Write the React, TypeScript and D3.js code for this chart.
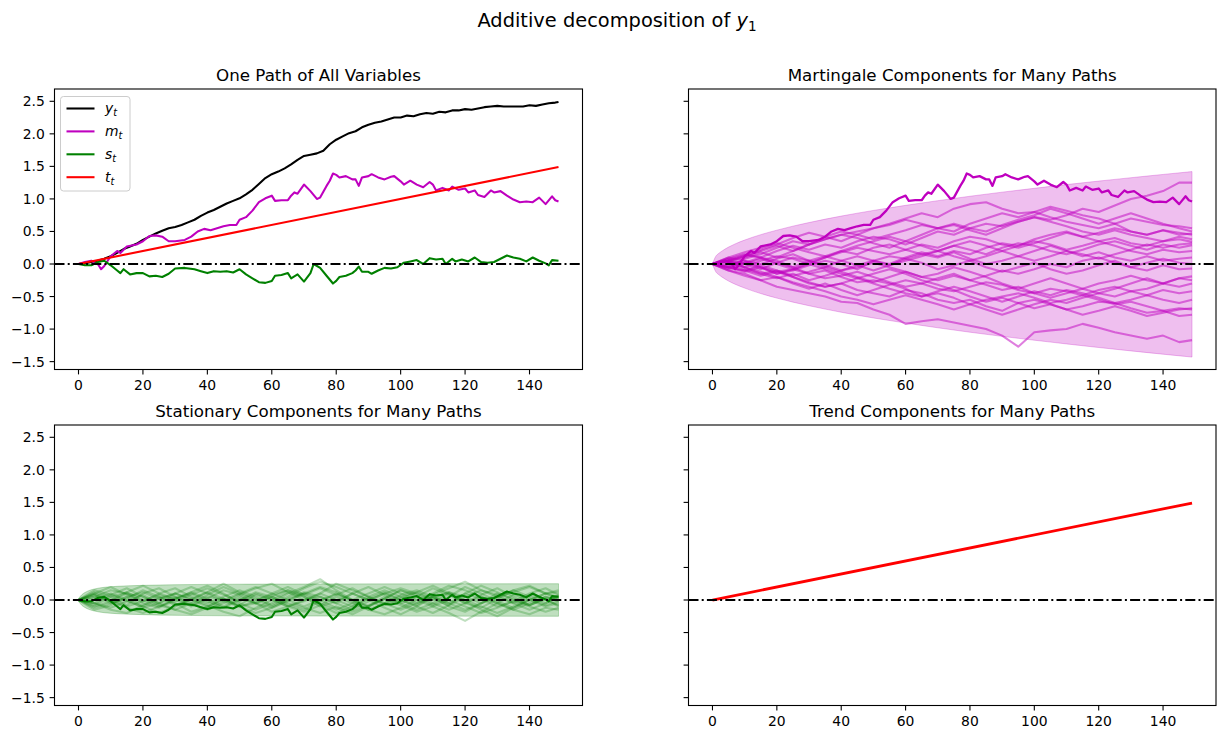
import React from 'react';
import * as d3 from 'd3';

// ---------------- DATA ----------------
const xTicks = [0, 20, 40, 60, 80, 100, 120, 140];
const yTicks = [-1.5, -1.0, -0.5, 0.0, 0.5, 1.0, 1.5, 2.0, 2.5];
const xDomain: [number, number] = [-7.45, 156.45];
const yDomain: [number, number] = [-1.621, 2.689];

const legendLabels = ['y', 'm', 's', 't'];

// coarse time grid for the many-path panels
const T5 = [0, 5, 10, 15, 20, 25, 30, 35, 40, 45, 50, 55, 60, 65, 70, 75, 80, 85, 90, 95, 100, 105, 110, 115, 120, 125, 130, 135, 140, 145, 149];

const yPath: [number, number][] = [[0,0],[2,0.01],[4,0.03],[6,0.05],[8,0.08],[10,0.12],[12,0.17],[14,0.23],[16,0.27],[18,0.31],[20,0.37],[22,0.42],[24,0.47],[26,0.51],[28,0.55],[30,0.57],[32,0.6],[34,0.64],[36,0.68],[38,0.74],[40,0.79],[42,0.83],[44,0.88],[46,0.93],[48,0.97],[50,1.01],[52,1.07],[54,1.14],[56,1.23],[58,1.32],[60,1.38],[62,1.42],[64,1.47],[66,1.53],[68,1.6],[70,1.66],[72,1.68],[74,1.7],[76,1.74],[78,1.84],[80,1.91],[82,1.96],[84,2.01],[86,2.04],[88,2.1],[90,2.14],[92,2.17],[94,2.19],[96,2.22],[98,2.25],[100,2.25],[102,2.28],[104,2.27],[106,2.3],[108,2.32],[110,2.31],[112,2.34],[114,2.33],[116,2.36],[118,2.36],[120,2.38],[122,2.37],[124,2.39],[126,2.41],[128,2.42],[130,2.43],[132,2.42],[134,2.42],[136,2.42],[138,2.42],[140,2.44],[142,2.43],[144,2.45],[146,2.47],[148,2.48],[149,2.49]];

const mPath: [number, number][] = [[0,0],[2,0.03],[4,0.05],[6,0.0],[7,-0.08],[8,-0.03],[10,0.12],[12,0.2],[13,0.17],[15,0.27],[18,0.3],[20,0.35],[22,0.43],[24,0.44],[26,0.42],[28,0.35],[30,0.35],[33,0.37],[35,0.42],[37,0.5],[39,0.54],[41,0.52],[43,0.55],[45,0.58],[47,0.6],[49,0.6],[50,0.68],[52,0.72],[54,0.82],[56,0.95],[58,1.01],[60,1.05],[61,0.97],[63,0.98],[65,0.98],[66,1.05],[67,1.1],[68,1.08],[70,1.22],[72,1.12],[74,1.0],[75,1.02],[77,1.2],[78,1.28],[79,1.39],[80,1.37],[81,1.33],[83,1.35],[85,1.3],[86,1.3],[87,1.2],[88,1.33],[90,1.35],[91,1.38],[93,1.33],[95,1.3],[97,1.34],[98,1.35],[100,1.27],[101,1.22],[103,1.28],[105,1.22],[107,1.18],[109,1.26],[110,1.22],[111,1.13],[113,1.17],[115,1.13],[116,1.19],[118,1.14],[120,1.16],[121,1.1],[123,1.13],[124,1.06],[126,1.03],[128,1.13],[129,1.1],[131,1.12],[133,1.05],[135,0.99],[137,0.95],[139,0.96],[141,0.95],[143,1.02],[145,0.92],[147,1.04],[148,0.98],[149,0.96]];

const sPath: [number, number][] = [[0,0],[2,-0.02],[4,-0.02],[6,0.03],[8,0.05],[10,-0.02],[12,-0.1],[13,-0.14],[14,-0.08],[16,-0.16],[18,-0.14],[20,-0.14],[22,-0.19],[24,-0.18],[26,-0.2],[28,-0.15],[30,-0.07],[33,-0.06],[36,-0.08],[38,-0.11],[40,-0.14],[42,-0.11],[44,-0.12],[46,-0.11],[48,-0.13],[50,-0.08],[52,-0.16],[54,-0.22],[56,-0.28],[58,-0.29],[60,-0.26],[61,-0.18],[63,-0.17],[65,-0.14],[66,-0.22],[68,-0.16],[70,-0.27],[72,-0.14],[73,0.0],[75,-0.06],[77,-0.18],[79,-0.3],[80,-0.26],[81,-0.2],[83,-0.18],[85,-0.14],[86,-0.1],[87,-0.04],[88,-0.12],[90,-0.12],[91,-0.15],[93,-0.1],[95,-0.06],[97,-0.07],[99,-0.05],[101,0.02],[103,0.04],[105,0.06],[107,0.0],[109,0.09],[111,0.07],[113,0.08],[114,0.0],[116,0.08],[117,0.04],[119,0.07],[121,0.04],[123,0.1],[125,0.03],[127,0.02],[129,0.03],[131,0.08],[133,0.13],[135,0.1],[137,0.08],[139,0.04],[141,0.1],[143,0.05],[145,0.01],[146,-0.02],[147,0.06],[149,0.05]];

const trendT = [0, 149];
const trendV = [0, 1.49];

const mBandT = [0, 1, 2, 3, 5, 7, 10, 15, 20, 25, 30, 40, 50, 60, 70, 80, 90, 100, 110, 120, 130, 140, 149];
const mBandUpper = [0, 0.116, 0.165, 0.201, 0.26, 0.308, 0.368, 0.451, 0.52, 0.582, 0.637, 0.736, 0.823, 0.901, 0.973, 1.041, 1.104, 1.163, 1.22, 1.274, 1.326, 1.376, 1.42];
const mBandLower = [0, -0.117, -0.166, -0.202, -0.262, -0.31, -0.37, -0.454, -0.524, -0.586, -0.641, -0.741, -0.829, -0.907, -0.98, -1.048, -1.112, -1.171, -1.228, -1.283, -1.335, -1.386, -1.43];

const sBandT = [0, 1, 2, 3, 5, 8, 12, 20, 30, 50, 80, 149];
const sBandUpper = [0.02, 0.08, 0.115, 0.14, 0.17, 0.195, 0.21, 0.225, 0.235, 0.243, 0.247, 0.25];
const sBandLower = [-0.02, -0.08, -0.115, -0.14, -0.17, -0.195, -0.21, -0.225, -0.235, -0.243, -0.247, -0.25];

const mPaths: number[][] = [
  [0,-0.1,-0.15,-0.25,-0.35,-0.4,-0.45,-0.5,-0.58,-0.6,-0.7,-0.78,-0.92,-0.88,-0.85,-0.9,-0.95,-1.0,-1.1,-1.27,-1.05,-1.02,-1.0,-0.92,-0.98,-1.05,-1.1,-1.15,-1.1,-1.2,-1.17],
  [0,0.05,-0.05,-0.15,-0.1,-0.2,-0.3,-0.35,-0.3,-0.4,-0.45,-0.5,-0.4,-0.45,-0.55,-0.6,-0.55,-0.65,-0.72,-0.6,-0.55,-0.62,-0.7,-0.65,-0.58,-0.6,-0.68,-0.75,-0.72,-0.8,-0.78],
  [0,-0.08,0.02,0.1,0.05,-0.05,-0.15,-0.1,-0.2,-0.28,-0.25,-0.3,-0.38,-0.5,-0.45,-0.52,-0.62,-0.55,-0.5,-0.45,-0.52,-0.6,-0.55,-0.48,-0.55,-0.62,-0.58,-0.65,-0.72,-0.68,-0.7],
  [0,0.1,0.05,-0.05,-0.12,-0.08,-0.15,-0.22,-0.18,-0.12,-0.2,-0.28,-0.35,-0.3,-0.38,-0.42,-0.35,-0.28,-0.32,-0.4,-0.45,-0.38,-0.42,-0.48,-0.4,-0.35,-0.42,-0.38,-0.3,-0.35,-0.3],
  [0,0.08,0.15,0.1,0.2,0.28,0.22,0.3,0.25,0.35,0.42,0.38,0.3,0.4,0.5,0.45,0.55,0.62,0.58,0.65,0.72,0.68,0.75,0.85,0.8,0.9,1.0,1.05,1.12,1.25,1.25],
  [0,0.05,0.12,0.2,0.28,0.2,0.3,0.38,0.45,0.5,0.55,0.62,0.7,0.78,0.72,0.85,0.92,0.95,0.85,0.78,0.8,0.72,0.65,0.6,0.55,0.62,0.5,0.45,0.52,0.48,0.45],
  [0,-0.05,0.08,0.15,0.25,0.35,0.3,0.42,0.5,0.45,0.38,0.45,0.52,0.6,0.55,0.5,0.62,0.7,0.78,0.72,0.8,0.88,0.82,0.75,0.7,0.62,0.7,0.65,0.6,0.58,0.55],
  [0,0.05,-0.05,0.05,0.12,0.08,0.0,0.1,0.18,0.25,0.2,0.15,0.22,0.3,0.25,0.35,0.42,0.38,0.3,0.25,0.32,0.4,0.48,0.42,0.35,0.4,0.32,0.28,0.35,0.38,0.34],
  [0,-0.05,-0.12,-0.05,-0.15,-0.1,-0.02,0.05,0.0,-0.08,0.05,0.12,0.08,0.15,0.2,0.28,0.22,0.15,0.25,0.32,0.28,0.2,0.15,0.22,0.3,0.35,0.28,0.22,0.3,0.25,0.29],
  [0,0.08,0.0,-0.08,0.02,0.1,0.05,-0.05,0.05,0.12,0.05,-0.02,0.08,0.02,-0.08,-0.02,0.05,-0.05,-0.12,-0.05,0.02,-0.08,-0.15,-0.1,-0.02,0.05,-0.05,-0.1,-0.02,-0.08,-0.07],
  [0,-0.06,-0.1,-0.02,-0.1,-0.18,-0.12,-0.05,-0.12,-0.2,-0.28,-0.2,-0.12,-0.2,-0.15,-0.05,-0.12,-0.2,-0.3,-0.38,-0.3,-0.22,-0.3,-0.38,-0.3,-0.25,-0.18,-0.25,-0.3,-0.22,-0.19],
  [0,0.02,-0.08,-0.15,-0.22,-0.15,-0.25,-0.18,-0.1,-0.02,0.05,0.0,0.1,0.18,0.12,0.2,0.15,0.25,0.32,0.28,0.38,0.45,0.5,0.42,0.48,0.55,0.5,0.45,0.52,0.45,0.47],
  [0,0.06,0.14,0.1,0.0,-0.08,0.02,0.1,0.2,0.15,0.25,0.3,0.22,0.15,0.1,0.18,0.08,0.0,0.05,0.12,0.2,0.28,0.2,0.12,0.18,0.1,0.05,0.12,0.05,0.08,0.1],
  [0,-0.04,-0.1,-0.18,-0.12,-0.2,-0.28,-0.35,-0.3,-0.22,-0.3,-0.38,-0.45,-0.5,-0.42,-0.35,-0.42,-0.5,-0.58,-0.5,-0.42,-0.48,-0.4,-0.45,-0.52,-0.6,-0.55,-0.48,-0.55,-0.6,-0.55],
  [0,0.1,0.18,0.25,0.32,0.25,0.18,0.12,0.2,0.28,0.35,0.42,0.35,0.28,0.2,0.12,0.05,0.12,0.2,0.28,0.35,0.3,0.22,0.28,0.35,0.28,0.2,0.15,0.22,0.18,0.2],
  [0,-0.1,-0.18,-0.25,-0.2,-0.3,-0.38,-0.3,-0.4,-0.48,-0.4,-0.32,-0.25,-0.3,-0.22,-0.15,-0.25,-0.18,-0.1,-0.15,-0.08,0.0,-0.05,0.05,0.1,0.02,-0.05,0.02,0.08,0.02,0.0],
  [0,0.05,0.12,0.22,0.3,0.4,0.48,0.42,0.35,0.45,0.55,0.6,0.68,0.62,0.55,0.6,0.52,0.45,0.55,0.65,0.72,0.65,0.58,0.5,0.45,0.52,0.45,0.4,0.35,0.42,0.38],
  [0,0.05,-0.05,-0.12,-0.2,-0.28,-0.35,-0.42,-0.5,-0.55,-0.62,-0.55,-0.48,-0.55,-0.62,-0.7,-0.62,-0.7,-0.78,-0.7,-0.62,-0.55,-0.6,-0.52,-0.45,-0.5,-0.42,-0.48,-0.4,-0.45,-0.42],
  [0,-0.02,0.05,0.0,0.08,0.15,0.05,-0.02,-0.1,-0.05,0.02,-0.05,-0.12,-0.2,-0.25,-0.18,-0.25,-0.32,-0.4,-0.35,-0.45,-0.52,-0.45,-0.38,-0.45,-0.38,-0.3,-0.22,-0.3,-0.22,-0.25],
  [0,0.05,0.0,0.08,0.02,-0.05,0.05,0.12,0.05,-0.02,-0.1,-0.02,0.05,0.12,0.2,0.28,0.35,0.28,0.2,0.12,0.05,0.12,0.2,0.15,0.08,0.15,0.22,0.3,0.25,0.3,0.32],
  [0,0.05,0.1,0.18,0.1,0.2,0.3,0.38,0.45,0.4,0.32,0.25,0.35,0.45,0.55,0.62,0.55,0.5,0.6,0.68,0.75,0.85,0.78,0.7,0.62,0.7,0.78,0.7,0.62,0.55,0.5],
  [0,-0.05,0.02,-0.05,-0.15,-0.08,0.0,-0.08,-0.15,-0.22,-0.15,-0.08,-0.15,-0.25,-0.32,-0.4,-0.5,-0.58,-0.52,-0.6,-0.68,-0.62,-0.7,-0.78,-0.72,-0.65,-0.72,-0.8,-0.75,-0.7,-0.68],
];

const sPaths: number[][] = [
  [0,0.12,0.05,-0.08,0.1,0.18,0.05,-0.1,0.02,0.15,0.08,-0.05,-0.12,0.0,0.1,0.2,0.12,-0.02,-0.15,-0.05,0.08,0.15,0.05,-0.1,-0.18,-0.05,0.1,0.02,-0.08,0.05,0.0],
  [0,-0.1,-0.02,0.1,0.05,-0.08,-0.15,-0.05,0.08,0.2,0.1,0.0,0.08,0.15,0.05,-0.08,-0.2,-0.1,0.02,0.12,0.0,-0.1,-0.2,-0.08,0.05,0.15,0.08,-0.05,-0.15,-0.05,0.05],
  [0,0.05,0.15,0.1,-0.05,-0.12,0.02,0.12,0.22,0.1,-0.05,-0.15,-0.05,0.1,0.2,0.32,0.15,0.0,-0.1,0.02,0.15,0.05,-0.08,0.05,0.2,0.1,-0.02,-0.12,0.0,0.1,0.02],
  [0,-0.05,-0.15,-0.2,-0.08,0.05,-0.05,-0.18,-0.1,0.02,-0.1,-0.2,-0.12,-0.02,0.1,0.0,-0.12,-0.22,-0.1,0.05,-0.05,-0.15,-0.05,0.1,-0.02,-0.15,-0.25,-0.12,0.0,-0.1,-0.05],
  [0,0.15,0.08,0.18,0.05,-0.05,0.1,0.2,0.1,-0.02,0.08,0.18,0.25,0.12,0.0,0.1,0.25,0.15,0.05,0.15,0.05,-0.05,0.08,0.18,0.28,0.15,0.05,0.12,0.2,0.1,0.12],
  [0,-0.12,-0.05,0.05,-0.1,-0.2,-0.1,0.02,-0.08,-0.18,-0.25,-0.12,0.0,-0.1,-0.18,-0.08,0.05,-0.05,-0.15,-0.22,-0.12,0.0,-0.1,-0.2,-0.32,-0.18,-0.05,-0.15,-0.22,-0.12,-0.15],
  [0,0.08,-0.05,0.02,0.15,0.05,-0.08,0.0,0.12,0.25,0.12,0.02,-0.1,0.02,0.12,0.05,-0.05,0.1,0.2,0.08,-0.05,0.05,0.18,0.08,-0.05,-0.12,0.02,0.15,0.05,-0.05,0.08],
  [0,-0.08,0.05,0.12,0.0,-0.1,0.02,0.1,-0.02,-0.12,0.0,0.12,0.05,-0.08,-0.15,-0.02,0.1,0.0,-0.1,0.02,0.15,0.08,-0.05,-0.15,-0.05,0.08,0.18,0.05,-0.08,0.02,-0.1],
  [0,0.1,0.2,0.08,-0.02,0.1,0.18,0.05,-0.05,0.05,0.15,0.05,-0.08,0.05,0.18,0.28,0.2,0.1,0.0,0.1,0.18,0.1,0.0,0.12,0.05,-0.05,0.05,0.15,0.22,0.1,0.15],
  [0,-0.05,-0.12,-0.02,0.08,-0.05,-0.15,-0.22,-0.12,-0.02,-0.1,-0.05,0.05,-0.05,-0.12,-0.2,-0.1,-0.18,-0.08,0.02,-0.08,-0.18,-0.1,0.0,-0.1,-0.2,-0.12,-0.02,-0.1,-0.18,-0.12],
  [0,0.05,0.0,-0.1,-0.02,0.08,0.0,-0.08,0.05,0.0,0.1,0.2,0.1,0.0,-0.1,0.0,0.08,0.18,0.05,-0.05,0.05,0.12,0.02,-0.08,0.1,0.22,0.12,0.0,-0.08,0.02,0.05],
  [0,0.02,0.1,0.0,-0.12,-0.05,0.05,-0.05,-0.15,-0.05,0.05,-0.05,-0.18,-0.1,0.0,0.05,-0.05,-0.15,-0.02,0.1,0.0,-0.08,0.05,0.12,0.0,-0.1,-0.2,-0.1,0.02,-0.08,-0.02],
  [0,-0.15,-0.08,0.05,0.12,0.02,0.1,0.0,-0.1,0.02,-0.08,0.08,0.0,0.12,0.05,-0.1,-0.02,0.1,0.0,-0.12,-0.22,-0.1,0.05,-0.05,0.1,0.02,-0.1,-0.02,0.1,0.18,0.08],
  [0,0.1,0.0,0.12,0.22,0.1,0.02,0.12,0.02,-0.1,0.02,-0.05,0.05,0.15,0.08,0.18,0.08,0.0,0.1,0.2,0.1,0.0,0.1,0.22,0.15,0.05,-0.05,0.08,0.0,0.1,0.05],
  [0,-0.05,0.08,-0.02,-0.1,0.02,0.1,0.02,0.12,0.02,-0.1,-0.02,0.1,0.2,0.08,-0.05,-0.15,-0.05,0.05,-0.08,0.02,0.12,0.22,0.1,-0.05,0.05,-0.05,-0.15,-0.05,0.05,-0.02],
  [0,0.08,-0.02,-0.12,-0.2,-0.1,-0.02,0.08,0.18,0.08,-0.02,0.1,0.02,-0.1,-0.02,0.1,0.0,-0.1,0.02,-0.05,-0.15,-0.05,0.05,-0.05,-0.15,-0.05,0.05,-0.05,0.08,0.0,-0.08],
];

// ---------------- STYLE / LAYOUT ----------------
const FONT = "'DejaVu Sans', sans-serif";
const MAG = '#bf00bf';
const GREEN = '#008000';
const RED = '#ff0000';
const LW = 2.08;

type Box = { x0: number; x1: number; y0: number; y1: number };
const boxes: Box[] = [
  { x0: 54.5, x1: 582.5, y0: 89, y1: 369.5 },
  { x0: 688.5, x1: 1216, y0: 89, y1: 369.5 },
  { x0: 54.5, x1: 582.5, y0: 425, y1: 705.5 },
  { x0: 688.5, x1: 1216, y0: 425, y1: 705.5 },
];
const titles = [
  'One Path of All Variables',
  'Martingale Components for Many Paths',
  'Stationary Components for Many Paths',
  'Trend Components for Many Paths',
];

const fmt = (v: number) => d3.format('.1f')(v).replace('-', '\u2212');

function Panel({ box, idx, title, showY, children }: { box: Box; idx: number; title: string; showY: boolean; children: (x: any, y: any) => React.ReactNode }) {
  const x = d3.scaleLinear().domain(xDomain).range([box.x0, box.x1]);
  const y = d3.scaleLinear().domain(yDomain).range([box.y1, box.y0]);
  const clipId = `clip${idx}`;
  return (
    <g>
      <defs>
        <clipPath id={clipId}>
          <rect x={box.x0} y={box.y0} width={box.x1 - box.x0} height={box.y1 - box.y0} />
        </clipPath>
      </defs>
      <g clipPath={`url(#${clipId})`}>{children(x, y)}
        <line x1={box.x0} x2={box.x1} y1={y(0)} y2={y(0)} stroke="#000" strokeWidth={2} strokeDasharray="10 3.2 2 3.2" />
      </g>
      <rect x={box.x0} y={box.y0} width={box.x1 - box.x0} height={box.y1 - box.y0} fill="none" stroke="#000" strokeWidth={1.1} />
      {xTicks.map((t) => (
        <g key={'x' + t}>
          <line x1={x(t)} x2={x(t)} y1={box.y1} y2={box.y1 + 4.9} stroke="#000" strokeWidth={1.1} />
          <text x={x(t)} y={box.y1 + 20} textAnchor="middle" fontSize={13.9} fontFamily={FONT} fill="#000">{t}</text>
        </g>
      ))}
      {yTicks.map((t) => (
        <g key={'y' + t}>
          <line x1={box.x0 - 4.9} x2={box.x0} y1={y(t)} y2={y(t)} stroke="#000" strokeWidth={1.1} />
          {showY && (
            <text x={box.x0 - 9.7} y={y(t) + 5} textAnchor="end" fontSize={13.9} fontFamily={FONT} fill="#000">{fmt(t)}</text>
          )}
        </g>
      ))}
      <text x={(box.x0 + box.x1) / 2} y={box.y0 - 8.3} textAnchor="middle" fontSize={16.7} fontFamily={FONT} fill="#000">{title}</text>
    </g>
  );
}

const pairLine = (x: any, y: any) => d3.line<[number, number]>().x((d) => x(d[0])).y((d) => y(d[1]));
const gridLine = (x: any, y: any) => d3.line<number>().x((_, i) => x(T5[i])).y((d) => y(d));

function bandPath(x: any, y: any, ts: number[], up: number[], lo: number[]) {
  const a = d3.area<number>().x((_, i) => x(ts[i])).y0((_, i) => y(lo[i])).y1((d) => y(d)).curve(d3.curveMonotoneX);
  return a(up) || '';
}

export default function App() {
  const legendColors = ['#000', MAG, GREEN, RED];
  return (
    <svg width={1225} height={739} style={{ position: 'absolute', left: 0, top: 0, background: '#fff' }} xmlns="http://www.w3.org/2000/svg">
      <rect width={1225} height={739} fill="#fff" />
      <text x={617} y={27} textAnchor="middle" fontSize={19.4} fontFamily={FONT} fill="#000">
        Additive decomposition of <tspan fontStyle="italic">y</tspan><tspan fontSize={13.6} dy={4}>1</tspan>
      </text>

      <Panel box={boxes[0]} idx={0} title={titles[0]} showY={true}>
        {(x, y) => (
          <g fill="none" strokeWidth={LW} strokeLinejoin="round">
            <path d={pairLine(x, y)(yPath) || ''} stroke="#000" />
            <path d={pairLine(x, y)(mPath) || ''} stroke={MAG} />
            <path d={pairLine(x, y)(sPath) || ''} stroke={GREEN} />
            <path d={pairLine(x, y)(trendT.map((t, i) => [t, trendV[i]] as [number, number])) || ''} stroke={RED} />
          </g>
        )}
      </Panel>

      <Panel box={boxes[1]} idx={1} title={titles[1]} showY={false}>
        {(x, y) => (
          <g>
            <path d={bandPath(x, y, mBandT, mBandUpper, mBandLower)} fill={MAG} fillOpacity={0.25} stroke={MAG} strokeOpacity={0.25} strokeWidth={1} />
            <g fill="none" stroke={MAG} strokeOpacity={0.5} strokeWidth={LW} strokeLinejoin="round">
              {mPaths.map((p, i) => <path key={i} d={gridLine(x, y)(p) || ''} />)}
            </g>
            <path d={pairLine(x, y)(mPath) || ''} fill="none" stroke={MAG} strokeWidth={2.3} strokeLinejoin="round" />
          </g>
        )}
      </Panel>

      <Panel box={boxes[2]} idx={2} title={titles[2]} showY={true}>
        {(x, y) => (
          <g>
            <path d={bandPath(x, y, sBandT, sBandUpper, sBandLower)} fill={GREEN} fillOpacity={0.25} stroke={GREEN} strokeOpacity={0.25} strokeWidth={1} />
            <g fill="none" stroke={GREEN} strokeOpacity={0.25} strokeWidth={LW} strokeLinejoin="round">
              {sPaths.map((p, i) => <path key={i} d={gridLine(x, y)(p) || ''} />)}
            </g>
            <path d={pairLine(x, y)(sPath) || ''} fill="none" stroke={GREEN} strokeWidth={LW} strokeLinejoin="round" />
          </g>
        )}
      </Panel>

      <Panel box={boxes[3]} idx={3} title={titles[3]} showY={false}>
        {(x, y) => (
          <path d={pairLine(x, y)(trendT.map((t, i) => [t, trendV[i]] as [number, number])) || ''} fill="none" stroke={RED} strokeWidth={2.8} />
        )}
      </Panel>

      {/* legend */}
      <g>
        <rect x={60.5} y={96.5} width={69.5} height={94.5} rx={3} fill="#fff" fillOpacity={0.8} stroke="#cccccc" strokeWidth={1} />
        {legendLabels.map((lab, i) => {
          const yy = 108.5 + i * 22.9;
          return (
            <g key={lab}>
              <line x1={66.5} x2={94.5} y1={yy} y2={yy} stroke={legendColors[i]} strokeWidth={LW} />
              <text x={105} y={yy + 4.5} fontSize={13.9} fontFamily={FONT} fill="#000">
                <tspan fontStyle="italic">{lab}</tspan><tspan fontStyle="italic" fontSize={9.7} dy={2.8}>t</tspan>
              </text>
            </g>
          );
        })}
      </g>
    </svg>
  );
}
